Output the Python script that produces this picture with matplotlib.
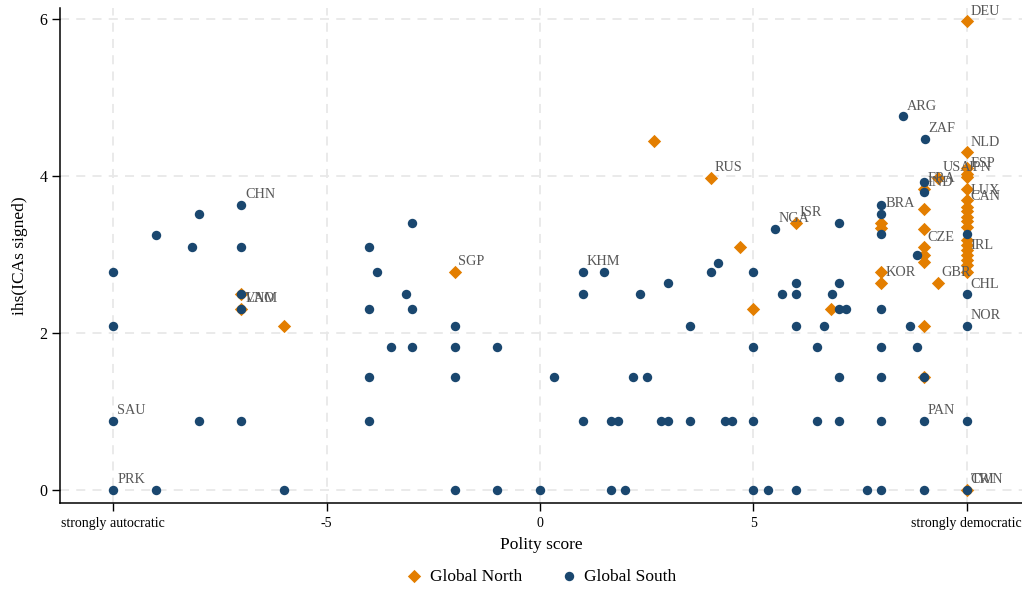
# polity.py - ICAs signed against polity score, Global North vs Global South

import numpy as np
import matplotlib.pyplot as plt

# Global North (orange diamonds)
northX = [-7, -7, -6, -2, 2.67, 4.0, 4.68, 5.0, 6.0, 6.83,
          8, 8, 8, 8, 9, 9, 9, 9, 9, 9, 9, 9, 9.34, 9.33,
          10, 10, 10, 10, 10, 10, 10, 10, 10, 10, 10, 10, 10,
          10, 10, 10, 10, 10, 10, 10]
northY = [2.49, 2.31, 2.09, 2.78, 4.45, 3.98, 3.09, 2.31, 3.40, 2.31,
          3.40, 3.34, 2.78, 2.64, 3.84, 3.58, 3.33, 3.09, 2.99, 2.90, 2.09, 1.44, 3.98, 2.64,
          5.97, 4.30, 4.10, 4.03, 3.99, 3.83, 3.69, 3.61, 3.55, 3.48, 3.42, 3.35, 3.18,
          3.12, 3.06, 2.99, 2.93, 2.87, 2.78, 0]

# Global South (blue circles)
southX = [-10, -10, -10, -10, -9, -9, -8.16, -8, -8,
          -7, -7, -7, -7, -7, -6,
          -4, -4, -4, -4, -3.82, -3.49, -3.15, -3, -3, -3,
          -2, -2, -2, -2, -1, -1, 0, 0.34,
          1, 1, 1, 1.5, 1.67, 1.67, 1.84, 2.0, 2.17, 2.34, 2.5, 2.83,
          3.0, 3.0, 3.51, 3.51, 4.01, 4.18, 4.33, 4.5,
          5, 5, 5, 5, 5.34, 5.51, 5.67, 6, 6, 6, 6, 6.5, 6.5, 6.67, 6.84,
          7, 7, 7, 7, 7, 7.18, 7.67,
          8, 8, 8, 8, 8, 8, 8, 8, 8.51, 8.67, 8.83, 8.83,
          9.02, 9, 9, 9, 9, 9, 10, 10, 10, 10, 10]
southY = [2.78, 2.09, 0.88, 0, 3.25, 0, 3.09, 3.52, 0.88,
          3.63, 3.09, 2.49, 2.31, 0.88, 0,
          3.09, 2.31, 1.44, 0.88, 2.78, 1.82, 2.49, 3.40, 2.31, 1.82,
          2.09, 1.82, 1.44, 0, 1.82, 0, 0, 1.44,
          2.78, 2.49, 0.88, 2.78, 0.88, 0, 0.88, 0, 1.44, 2.49, 1.44, 0.88,
          2.64, 0.88, 2.09, 0.88, 2.78, 2.89, 0.88, 0.88,
          2.78, 1.82, 0.88, 0, 0, 3.33, 2.49, 2.64, 2.49, 2.09, 0, 1.82, 0.88, 2.09, 2.49,
          3.40, 2.64, 2.31, 1.44, 0.88, 2.31, 0,
          3.63, 3.52, 3.26, 2.31, 1.82, 1.44, 0.88, 0, 4.76, 2.09, 2.99, 1.82,
          4.47, 3.92, 3.79, 1.44, 0.88, 0, 3.26, 2.49, 2.09, 0.88, 0]

# country labels
labelNames = ["DEU", "ARG", "ZAF", "NLD", "ESP", "JPN", "USA", "FRA", "IND", "LUX",
              "CAN", "BRA", "CZE", "IRL", "KOR", "GBR", "CHL", "NOR", "PAN", "CRI",
              "TWN", "CHN", "VNM", "LAO", "SGP", "KHM", "RUS", "NGA", "ISR", "SAU", "PRK"]
labelX = [10, 8.51, 9.02, 10, 10, 9.93, 9.34, 9, 9, 10,
          10, 8, 9, 10, 8, 9.33, 10, 10, 9, 10,
          10, -7, -7, -7, -2, 1, 4.0, 5.51, 6.0, -10, -10]
labelY = [5.97, 4.76, 4.47, 4.30, 4.03, 3.98, 3.98, 3.84, 3.79, 3.69,
          3.61, 3.52, 3.09, 2.99, 2.64, 2.64, 2.49, 2.09, 0.88, 0,
          0, 3.63, 2.31, 2.31, 2.78, 2.78, 3.98, 3.33, 3.40, 0.88, 0]

xTicks = [-10, -5, 0, 5, 10]
xTickLabels = ["strongly autocratic", "-5", "0", "5", "strongly democratic"]
yTicks = [0, 2, 4, 6]

orange = "#e37e00"
navy = "#1a476f"

plt.rcParams['font.family'] = ['Liberation Serif', 'DejaVu Serif']

figure = plt.figure(figsize=(10.22, 5.90), dpi=100)
ax = figure.add_axes([0.0587, 0.1475, 0.9413, 0.839])

ax.scatter(northX, northY, marker="D", s=46, color=orange, linewidths=0, zorder=3, label="Global North")
ax.scatter(southX, southY, marker="o", s=46, color=navy, linewidths=0, zorder=4, label="Global South")

for name, lx, ly in zip(labelNames, labelX, labelY):
    ax.annotate(name, (lx, ly), xytext=(2.8, 7.3), textcoords="offset points",
                ha="left", va="center", fontsize=10.3, color="#595959", zorder=5)

ax.set_xlim(-11.25, 11.3)
ax.set_ylim(-0.166, 6.14)
ax.set_xticks(xTicks)
ax.set_xticklabels(xTickLabels)
ax.set_yticks(yTicks)
ax.tick_params(axis="x", labelsize=10, length=6, width=1, pad=4)
ax.tick_params(axis="y", labelsize=11.5, length=6, width=1, pad=3)

ax.grid(True, color="#e8e8e8", linestyle=(0, (5, 4)), linewidth=1.3, zorder=0)
ax.set_axisbelow(True)
for side in ["top", "right"]:
    ax.spines[side].set_visible(False)
for side in ["left", "bottom"]:
    ax.spines[side].set_linewidth(1.1)

ax.set_xlabel("Polity score", fontsize=12.5, labelpad=5)
ax.set_ylabel("ihs(ICAs signed)", fontsize=12.5, labelpad=8)

ax.legend(loc="center", bbox_to_anchor=(0.5, -0.149), ncol=2, frameon=False,
          fontsize=12.5, handlelength=1.0, handletextpad=0.4, columnspacing=2.2,
          markerscale=1.0)

figure.savefig("out.png", dpi=100)
